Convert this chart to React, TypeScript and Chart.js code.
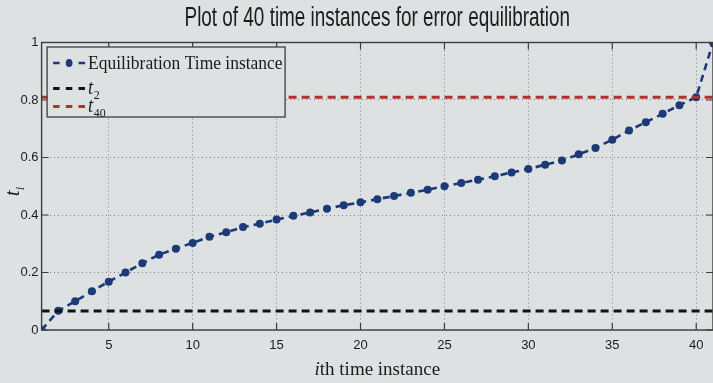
import React, { useEffect, useRef } from 'react';
import { Chart, registerables } from 'chart.js';

Chart.register(...registerables);

// ---------- data ----------
const chartTitle = 'Plot of 40 time instances for error equilibration';
const xTitleItalic = 'i';
const xTitleRest = 'th time instance';
const seriesLabel = 'Equilibration Time instance';

const instances = [
  1, 2, 3, 4, 5, 6, 7, 8, 9, 10, 11, 12, 13, 14, 15, 16, 17, 18, 19, 20, 21,
  22, 23, 24, 25, 26, 27, 28, 29, 30, 31, 32, 33, 34, 35, 36, 37, 38, 39, 40, 41,
];
const equilibrationTimes = [
  0, 0.067, 0.1, 0.135, 0.168, 0.2, 0.232, 0.262, 0.283, 0.303, 0.324, 0.34,
  0.358, 0.37, 0.384, 0.397, 0.409, 0.422, 0.434, 0.444, 0.455, 0.466, 0.477,
  0.488, 0.5, 0.511, 0.523, 0.535, 0.548, 0.56, 0.575, 0.59, 0.611, 0.633,
  0.662, 0.694, 0.723, 0.752, 0.782, 0.81, 1,
];
const t2Value = 0.066;
const t40Value = 0.81;

const xMin = 1;
const xMax = 41;
const xTickValues = [5, 10, 15, 20, 25, 30, 35, 40];
const xTickLabels = ['5', '10', '15', '20', '25', '30', '35', '40'];
const yTickValues = [0, 0.2, 0.4, 0.6, 0.8, 1];
const yTickLabels = ['0', '0.2', '0.4', '0.6', '0.8', '1'];

// ---------- styles ----------
const BG = '#dee1e1';
const NAVY = '#1c3978';
const RED = '#b3302b';
const BLACK = '#121212';
const FRAME = '#3c3c3c';
const GRID = '#7d7d7d';
const TEXT = '#1b1b1b';
const SANS = '"Liberation Sans Narrow", "Liberation Sans", Arial, sans-serif';
const SERIF = '"Liberation Serif", "Times New Roman", serif';

function scaledText(
  ctx: CanvasRenderingContext2D,
  text: string,
  x: number,
  y: number,
  font: string,
  sx: number,
  align: CanvasTextAlign = 'left',
) {
  ctx.save();
  ctx.translate(x, y);
  ctx.scale(sx, 1);
  ctx.font = font;
  ctx.textAlign = align;
  ctx.textBaseline = 'alphabetic';
  ctx.fillStyle = TEXT;
  ctx.fillText(text, 0, 0);
  const w = ctx.measureText(text).width * sx;
  ctx.restore();
  return w;
}

const bgPlugin = {
  id: 'bgFill',
  beforeDraw(chart: any) {
    const ctx = chart.ctx;
    ctx.save();
    ctx.fillStyle = BG;
    ctx.fillRect(0, 0, chart.width, chart.height);
    ctx.restore();
  },
};

const overlayPlugin = {
  id: 'overlay',
  afterDatasetsDraw(chart: any) {
    const ctx: CanvasRenderingContext2D = chart.ctx;
    const { left, right, top, bottom } = chart.chartArea;
    const xs = chart.scales.x;
    const ys = chart.scales.y;

    // frame + inward ticks
    ctx.save();
    ctx.strokeStyle = FRAME;
    ctx.lineWidth = 1.4;
    ctx.strokeRect(left, top, right - left, bottom - top);
    ctx.lineWidth = 1.2;
    const tl = 7;
    ctx.beginPath();
    xTickValues.forEach((v) => {
      const px = xs.getPixelForValue(v);
      ctx.moveTo(px, bottom);
      ctx.lineTo(px, bottom - tl);
      ctx.moveTo(px, top);
      ctx.lineTo(px, top + tl);
    });
    yTickValues.forEach((v) => {
      const py = ys.getPixelForValue(v);
      ctx.moveTo(left, py);
      ctx.lineTo(left + tl, py);
      ctx.moveTo(right, py);
      ctx.lineTo(right - tl, py);
    });
    ctx.stroke();
    ctx.restore();

    // legend box
    const lx = left + 5.5;
    const ly = top + 4.5;
    const lw = 238;
    const lh = 70;
    ctx.save();
    ctx.fillStyle = BG;
    ctx.fillRect(lx, ly, lw, lh);
    ctx.strokeStyle = FRAME;
    ctx.lineWidth = 1.3;
    ctx.strokeRect(lx, ly, lw, lh);

    const sx0 = lx + 6;
    const sx1 = lx + 38;
    const tx = lx + 41;
    const rows = [ly + 16, ly + 41.5, ly + 59.5];
    const ds = chart.data.datasets;

    // row 1: dash-dot-dash
    ctx.strokeStyle = ds[0].borderColor;
    ctx.lineWidth = 2.6;
    ctx.beginPath();
    ctx.moveTo(sx0, rows[0]);
    ctx.lineTo(sx0 + 6.5, rows[0]);
    ctx.moveTo(sx1 - 6.5, rows[0]);
    ctx.lineTo(sx1, rows[0]);
    ctx.stroke();
    ctx.fillStyle = ds[0].borderColor;
    ctx.beginPath();
    ctx.ellipse((sx0 + sx1) / 2, rows[0], 3.4, 4, 0, 0, Math.PI * 2);
    ctx.fill();
    scaledText(ctx, ds[0].label, tx, rows[0] + 6, `19px ${SERIF}`, 0.92);

    // rows 2,3: dashed samples with subscripted labels
    [1, 2].forEach((di) => {
      const y = rows[di];
      ctx.strokeStyle = ds[di].borderColor;
      ctx.lineWidth = 3;
      ctx.setLineDash([6.5, 6.2]);
      ctx.beginPath();
      ctx.moveTo(sx0, y);
      ctx.lineTo(sx1, y);
      ctx.stroke();
      ctx.setLineDash([]);
      const w = scaledText(ctx, 't', tx, y + 5, `italic 20px ${SERIF}`, 0.92);
      scaledText(ctx, ds[di].label.slice(1), tx + w + 0.5, y + 10, `13px ${SERIF}`, 0.92);
    });
    ctx.restore();
  },
  afterDraw(chart: any) {
    const ctx: CanvasRenderingContext2D = chart.ctx;
    const { left, right, top, bottom } = chart.chartArea;
    const cx = (left + right) / 2;

    // title
    scaledText(ctx, chartTitle, cx, 26, `27px "Liberation Sans", Arial, sans-serif`, 0.7, 'center');

    // x axis title: italic i + rest
    ctx.save();
    ctx.font = `italic 19px ${SERIF}`;
    const wi = ctx.measureText(xTitleItalic).width;
    ctx.font = `19px ${SERIF}`;
    const wr = ctx.measureText(xTitleRest).width;
    ctx.restore();
    const startX = cx - (wi + wr) / 2;
    scaledText(ctx, xTitleItalic, startX, 375, `italic 19px ${SERIF}`, 1);
    scaledText(ctx, xTitleRest, startX + wi, 375, `19px ${SERIF}`, 1);

    // y axis title: t_i rotated
    ctx.save();
    ctx.translate(19, (top + bottom) / 2 + 4);
    ctx.rotate(-Math.PI / 2);
    scaledText(ctx, 't', -6, 0, `italic 21px ${SERIF}`, 1);
    scaledText(ctx, 'i', 0, 5, `italic 13px ${SERIF}`, 1);
    ctx.restore();
  },
};

export default function App() {
  const canvasRef = useRef<HTMLCanvasElement | null>(null);

  useEffect(() => {
    const canvas = canvasRef.current;
    if (!canvas) return;
    const chart = new Chart(canvas, {
      type: 'line',
      data: {
        datasets: [
          {
            label: seriesLabel,
            data: instances.map((x, i) => ({ x, y: equilibrationTimes[i] })),
            borderColor: NAVY,
            backgroundColor: NAVY,
            borderWidth: 2.6,
            borderDash: [7, 5],
            pointRadius: 4,
            pointHoverRadius: 4,
            pointBorderWidth: 0,
            pointBackgroundColor: NAVY,
            tension: 0,
            order: 3,
          },
          {
            label: 't2',
            data: [
              { x: xMin, y: t2Value },
              { x: xMax, y: t2Value },
            ],
            borderColor: BLACK,
            borderWidth: 3,
            borderDash: [8, 5],
            pointRadius: 0,
            order: 2,
          },
          {
            label: 't40',
            data: [
              { x: xMin, y: t40Value },
              { x: xMax, y: t40Value },
            ],
            borderColor: RED,
            borderWidth: 3,
            borderDash: [8, 5],
            pointRadius: 0,
            order: 1,
          },
        ],
      },
      options: {
        animation: false,
        responsive: false,
        maintainAspectRatio: false,
        events: [],
        layout: { autoPadding: false, padding: { top: 42.5, left: 0, right: 0, bottom: 0 } },
        plugins: {
          legend: { display: false },
          title: { display: false },
          tooltip: { enabled: false },
        },
        scales: {
          x: {
            type: 'linear',
            min: xMin,
            max: xMax,
            afterBuildTicks: (s: any) => {
              s.ticks = xTickValues.map((v) => ({ value: v }));
            },
            afterFit: (s: any) => {
              s.height = 53;
              s.paddingLeft = 0;
              s.paddingRight = 0;
            },
            grid: { color: GRID, lineWidth: 1, drawTicks: false },
            border: { display: false, dash: [1, 3] },
            ticks: {
              padding: 8,
              color: TEXT,
              autoSkip: false,
              maxRotation: 0,
              font: { family: SANS, size: 13 },
              callback: (_v: any, i: number) => xTickLabels[i],
            },
          },
          y: {
            type: 'linear',
            min: 0,
            max: 1,
            afterBuildTicks: (s: any) => {
              s.ticks = yTickValues.map((v) => ({ value: v }));
            },
            afterFit: (s: any) => {
              s.width = 41.6;
              s.paddingTop = 0;
              s.paddingBottom = 0;
            },
            grid: { color: GRID, lineWidth: 1, drawTicks: false },
            border: { display: false, dash: [1, 3] },
            ticks: {
              padding: 3,
              color: TEXT,
              font: { family: SANS, size: 13 },
              callback: (_v: any, i: number) => yTickLabels[i],
            },
          },
        },
      },
      plugins: [bgPlugin, overlayPlugin],
    });
    return () => chart.destroy();
  }, []);

  return (
    <div style={{ position: 'fixed', left: 0, top: 0, width: 713, height: 383, background: BG }}>
      <canvas ref={canvasRef} width={713} height={383} style={{ display: 'block', width: 713, height: 383 }} />
    </div>
  );
}
